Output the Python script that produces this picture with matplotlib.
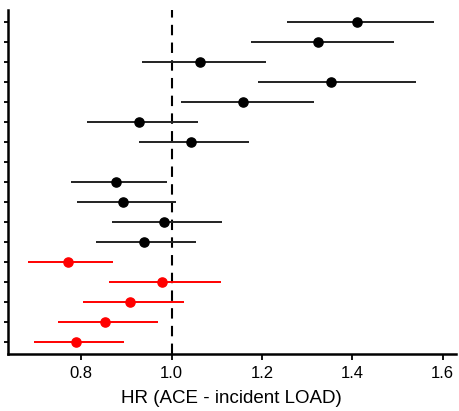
import matplotlib
matplotlib.use("Agg")
import matplotlib.pyplot as plt
import numpy as np

plt.rcParams['font.family'] = ['Liberation Sans', 'DejaVu Sans']

# rows from top to bottom (None = empty row)
hr    = [1.410, 1.325, 1.063, 1.354, 1.159, 0.928, 1.043, None, 0.877, 0.893, 0.983, 0.938, 0.771, 0.978, 0.909, 0.853, 0.789]
lower = [1.256, 1.175, 0.935, 1.191, 1.021, 0.813, 0.928, None, 0.777, 0.790, 0.868, 0.833, 0.683, 0.862, 0.804, 0.749, 0.695]
upper = [1.582, 1.493, 1.208, 1.542, 1.316, 1.059, 1.172, None, 0.990, 1.009, 1.111, 1.055, 0.870, 1.110, 1.028, 0.971, 0.895]
group = ['black'] * 12 + ['red'] * 5
xticks = [0.8, 1.0, 1.2, 1.4, 1.6]
xlabel = 'HR (ACE - incident LOAD)'

fig = plt.figure(figsize=(4.6, 4.11), dpi=100)
ax = fig.add_axes([8/460, 1-354/411, (455.7-8)/460, (354-10)/411])

for i, (h, lo, up, c) in enumerate(zip(hr, lower, upper, group)):
    if h is None:
        continue
    lc = '#222222' if c == 'black' else 'red'
    ax.plot([lo, up], [i, i], color=lc, lw=1.4, solid_capstyle='butt', zorder=2)
    ax.plot([h], [i], 'o', color=c, ms=6.6, mec=c, zorder=3)

ax.axvline(1.0, color='black', lw=1.5, ls=(0, (5, 3.5)), zorder=1)

ax.set_xlim(0.638, 1.629)
ax.set_ylim(16.6, -0.6)
ax.set_yticks(range(len(hr)))
ax.set_yticklabels([])
ax.set_xticks(xticks)
ax.set_xticklabels([f'{t:.1f}' for t in xticks], fontsize=12)
ax.set_xlabel(xlabel, fontsize=13.5, labelpad=6)

for s in ['top', 'right']:
    ax.spines[s].set_visible(False)
for s in ['left', 'bottom']:
    ax.spines[s].set_linewidth(1.8)
ax.tick_params(axis='x', direction='out', length=4, width=1.3, pad=5)
ax.tick_params(axis='y', direction='out', length=3, width=1.3)

fig.savefig('out.png', dpi=100)
